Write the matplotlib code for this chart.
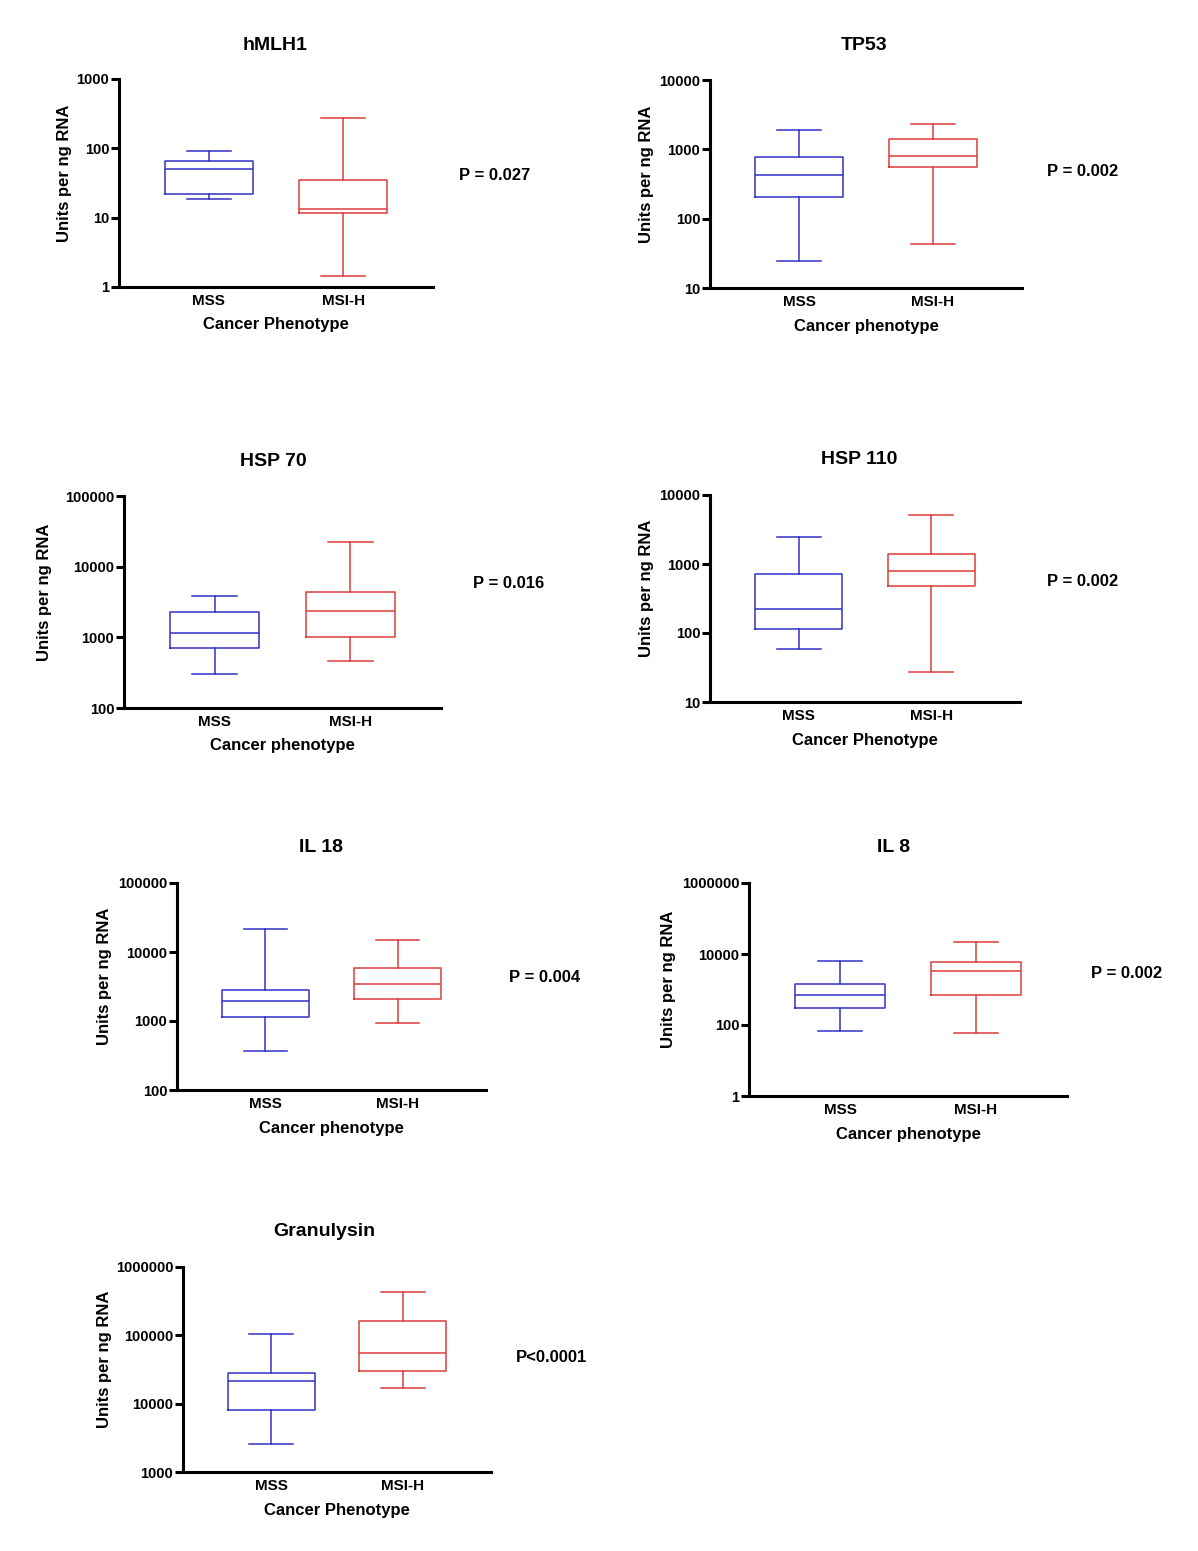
import matplotlib.pyplot as plt
from matplotlib.ticker import FixedLocator, NullLocator, FuncFormatter

plt.rcParams['font.family'] = ['Liberation Sans', 'DejaVu Sans']
plt.rcParams['font.weight'] = 'bold'

# panel data
genes = ['hMLH1', 'TP53', 'HSP 70', 'HSP 110', 'IL 18', 'IL 8', 'Granulysin']
groups = ['MSS', 'MSI-H']
x_titles = ['Cancer Phenotype', 'Cancer phenotype', 'Cancer phenotype', 'Cancer Phenotype',
            'Cancer phenotype', 'Cancer phenotype', 'Cancer Phenotype']
p_texts = ['P = 0.027', 'P = 0.002', 'P = 0.016', 'P = 0.002', 'P = 0.004', 'P = 0.002', 'P<0.0001']

# whisker low, Q1, median, Q3, whisker high
mss_stats = [
    [18.4, 22, 50, 66, 93],
    [24.5, 202, 420, 763, 1890],
    [300, 708, 1170, 2290, 3870],
    [58.5, 116, 222, 728, 2500],
    [363, 1130, 1920, 2770, 21400],
    [67, 304, 708, 1390, 6310],
    [2600, 8170, 21200, 28400, 104700],
]
msi_stats = [
    [1.43, 11.7, 13.5, 35, 277],
    [43.7, 547, 798, 1400, 2290],
    [458, 1025, 2340, 4350, 22500],
    [27.2, 482, 787, 1390, 5140],
    [943, 2075, 3420, 5770, 15000],
    [61, 679, 3300, 6050, 21700],
    [16800, 30100, 55100, 164000, 430000],
]
y_ticks = [
    [1, 10, 100, 1000],
    [10, 100, 1000, 10000],
    [100, 1000, 10000, 100000],
    [10, 100, 1000, 10000],
    [100, 1000, 10000, 100000],
    [1, 100, 10000, 1000000],
    [1000, 10000, 100000, 1000000],
]

# layout in pixels: axes frame (left, top, right, bottom), title, ylabel x, p-text position
frames = [(119, 79, 433, 287), (710, 80, 1022, 288), (124, 496, 441, 708), (710, 495, 1020, 702),
          (177, 883, 486, 1090), (749, 883, 1067, 1096), (183, 1267, 491, 1472)]
title_pos = [(275, 45), (864, 45), (273, 461), (859, 459), (321, 847), (894, 848), (324, 1232)]
ylab_x = [65, 647, 45, 647, 105, 668, 105]
p_pos = [(459, 175), (1047, 172), (473, 583), (1047, 581), (509, 977), (1091, 973), (516, 1357)]

W, H = 1198, 1551
fig = plt.figure(figsize=(W / 100, H / 100), dpi=100)


def fx(px):
    return px / W


def fy(py):
    return 1 - py / H


blue = '#3232c8'
red = '#dc3c3c'

for i in range(len(genes)):
    l, t, r, b = frames[i]
    ax = fig.add_axes([fx(l), fy(b), (r - l) / W, (b - t) / H])
    ax.set_yscale('log')
    for pos, st, col in [(1, mss_stats[i], blue), (2, msi_stats[i], red)]:
        d = dict(whislo=st[0], q1=st[1], med=st[2], q3=st[3], whishi=st[4], fliers=[])
        lp = dict(color=col, linewidth=1.1)
        ax.bxp([d], positions=[pos], widths=0.66, capwidths=0.33, showfliers=False,
               boxprops=lp, whiskerprops=lp, capprops=lp, medianprops=lp, manage_ticks=False)
    ax.set_xlim(0.33, 2.67)
    ax.set_ylim(y_ticks[i][0], y_ticks[i][-1])
    ax.yaxis.set_major_locator(FixedLocator(y_ticks[i]))
    ax.yaxis.set_minor_locator(NullLocator())
    ax.yaxis.set_major_formatter(FuncFormatter(lambda v, p: f'{v:.0f}'))
    ax.set_xticks([1, 2])
    ax.set_xticklabels(groups)
    for s in ['top', 'right']:
        ax.spines[s].set_visible(False)
    for s in ['left', 'bottom']:
        ax.spines[s].set_linewidth(2.2)
    ax.tick_params(axis='y', length=6, width=2.2, labelsize=10.5, pad=1)
    ax.tick_params(axis='x', length=0, labelsize=11, pad=5)

    # texts
    fig.text(fx(title_pos[i][0]), fy(title_pos[i][1]), genes[i], ha='center', va='center',
             fontsize=14, fontweight='bold')
    fig.text(fx((l + r) / 2), fy(b + 38), x_titles[i], ha='center', va='center',
             fontsize=12, fontweight='bold')
    fig.text(fx(ylab_x[i]), fy((t + b) / 2 - 10), 'Units per ng RNA', ha='center', va='center',
             rotation=90, fontsize=12, fontweight='bold')
    fig.text(fx(p_pos[i][0]), fy(p_pos[i][1]), p_texts[i], ha='left', va='center',
             fontsize=12, fontweight='bold')

fig.savefig('out.png', dpi=100)
